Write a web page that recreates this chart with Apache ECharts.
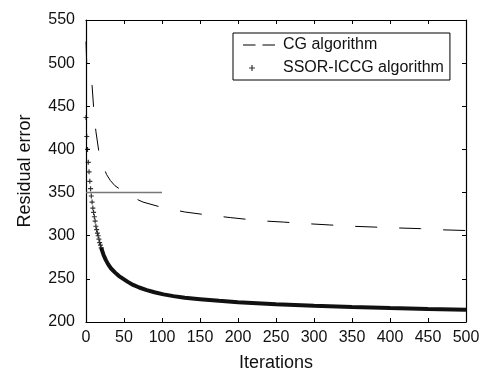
<!DOCTYPE html>
<html><head><meta charset="utf-8">
<script src="https://cdn.jsdelivr.net/npm/echarts@6/dist/echarts.min.js"></script>
<style>html,body{margin:0;padding:0;background:#fff}#c{width:488px;height:378px}</style>
</head><body><div id="c"></div>
<script>
// ---- data ----
const xTickValues = [0, 50, 100, 150, 200, 250, 300, 350, 400, 450, 500];
const yTickValues = [200, 250, 300, 350, 400, 450, 500, 550];

const cgIter = [0, 1, 8, 10, 13, 17, 20, 23, 27, 32, 38, 47, 60, 75, 100, 130, 160, 190, 230, 260, 290, 320, 350, 380, 410, 440, 470, 500];
const cgVal  = [525, 498, 474, 449, 421, 397, 388, 380, 371, 364, 358, 352.5, 345, 339, 332.8, 327.5, 324, 321, 317.3, 315.8, 314, 312.5, 311, 310, 309, 308.2, 306.8, 306];

const ssorEarlyIter = [0, 1, 2, 3, 4, 5, 6, 7, 8, 9, 10, 11, 12, 13, 14, 15, 16, 17, 18, 19, 20];
const ssorEarlyVal  = [437, 415, 400, 385, 374, 363, 354.5, 346, 339, 332, 327, 322, 317, 311, 307, 303, 300, 296, 292, 289, 286];
const ssorTailIter = [20, 23, 26, 29, 33, 38, 43, 49, 55, 62, 70, 80, 90, 102, 115, 130, 150, 175, 200, 250, 300, 350, 400, 450, 500];
const ssorTailVal  = [286, 278, 272, 267, 262, 257.5, 253.5, 250, 246.5, 243, 240, 237, 234.5, 232, 230, 228, 226.5, 224.5, 223, 220.5, 218.7, 217.3, 216.2, 215.2, 214.3];

const refIter = [0, 100];
const refVal  = [350, 350];

const seriesNames = ['CG algorithm', 'SSOR-ICCG algorithm'];
const xName = 'Iterations';
const yName = 'Residual error';

// ---- font choice ----
function fontAvail(name){
  const c = document.createElement('canvas').getContext('2d');
  const s = 'SSOR-ICCG algorithm 0123456789';
  c.font = '20px monospace'; const a = c.measureText(s).width;
  c.font = '20px "' + name + '", monospace'; const b = c.measureText(s).width;
  return Math.abs(a - b) > 0.5;
}
const narrow = fontAvail('Liberation Sans Narrow');
const FF = narrow ? '"Liberation Sans Narrow", "Liberation Sans", Arial, sans-serif' : '"Liberation Sans", Arial, sans-serif';
const FS = narrow ? {tick: 19, legend: 19, name: 22} : {tick: 16, legend: 16, name: 18};
const TXT = '#111';

const zip = (a, b) => a.map((v, i) => [v, b[i]]);
const plusPath = 'path://M0,2.3h6v1.4h-6zM2.3,0h1.4v6h-1.4z';
const legendDash = 'path://M0,0h12.5v1h-12.5zM19.5,0h12.5v1h-12.5z';
const legendPlus = 'path://M6,2.4h6v1.2h-6zM8.4,0h1.2v6h-1.2zM0,3h0.01v0.01h-0.01zM32,3h0.01v0.01h-0.01z';

const xMin = xTickValues[0], xMax = xTickValues[xTickValues.length - 1];
const yMin = yTickValues[0], yMax = yTickValues[yTickValues.length - 1];
const xInt = xTickValues[1] - xTickValues[0], yInt = yTickValues[1] - yTickValues[0];

const axisCommon = {
  axisLine: {show: true, onZero: false, lineStyle: {color: '#000', width: 1.2}},
  axisTick: {show: true, inside: true, length: 4, lineStyle: {color: '#000', width: 1}},
  splitLine: {show: false}
};

const chart = echarts.init(document.getElementById('c'), null, {renderer: 'canvas'});
chart.setOption({
  animation: false,
  backgroundColor: '#fff',
  textStyle: {fontFamily: FF, color: TXT},
  grid: {left: 86, right: 22, top: 20, bottom: 56, containLabel: false},
  legend: {
    orient: 'vertical', left: 233, top: 33,
    padding: [4, 6, 4, 10], itemGap: 7, itemWidth: 32, itemHeight: 10,
    backgroundColor: '#fff', borderColor: '#000', borderWidth: 1, borderRadius: 0,
    textStyle: {fontFamily: FF, fontSize: FS.legend, color: TXT, padding: [0, 0, 0, 3]},
    selectedMode: false,
    data: [
      {name: seriesNames[0], icon: legendDash, itemStyle: {color: '#000'}},
      {name: seriesNames[1], icon: legendPlus, itemStyle: {color: '#000'}}
    ]
  },
  xAxis: [
    Object.assign({type: 'value', position: 'bottom', min: xMin, max: xMax, interval: xInt,
      name: xName, nameLocation: 'middle', nameGap: 32,
      nameTextStyle: {fontFamily: FF, fontSize: FS.name, color: TXT},
      axisLabel: {fontFamily: FF, fontSize: FS.tick, color: TXT, margin: 8}}, axisCommon),
    Object.assign({type: 'value', position: 'top', min: xMin, max: xMax, interval: xInt,
      axisLabel: {show: false}}, axisCommon)
  ],
  yAxis: [
    Object.assign({type: 'value', position: 'left', min: yMin, max: yMax, interval: yInt,
      name: yName, nameLocation: 'middle', nameGap: 52,
      nameTextStyle: {fontFamily: FF, fontSize: FS.name, color: TXT},
      axisLabel: {fontFamily: FF, fontSize: FS.tick, color: TXT, margin: 11}}, axisCommon),
    Object.assign({type: 'value', position: 'right', min: yMin, max: yMax, interval: yInt,
      axisLabel: {show: false}}, axisCommon)
  ],
  series: [
    {name: seriesNames[0], type: 'line', data: zip(cgIter, cgVal), symbol: 'none',
      lineStyle: {color: '#000', width: 1, type: [22, 22]}, itemStyle: {color: '#000'}, z: 3},
    {name: 'ref', type: 'line', data: zip(refIter, refVal), symbol: 'none',
      lineStyle: {color: '#777', width: 1.5}, z: 2},
    {name: seriesNames[1], type: 'scatter', data: zip(ssorEarlyIter, ssorEarlyVal),
      symbol: plusPath, symbolSize: 5, itemStyle: {color: '#000'}, z: 4},
    {name: seriesNames[1], type: 'line', data: zip(ssorTailIter, ssorTailVal), symbol: 'none',
      lineStyle: {color: '#111', width: 4}, itemStyle: {color: '#000'}, z: 4}
  ]
});
</script></body></html>
